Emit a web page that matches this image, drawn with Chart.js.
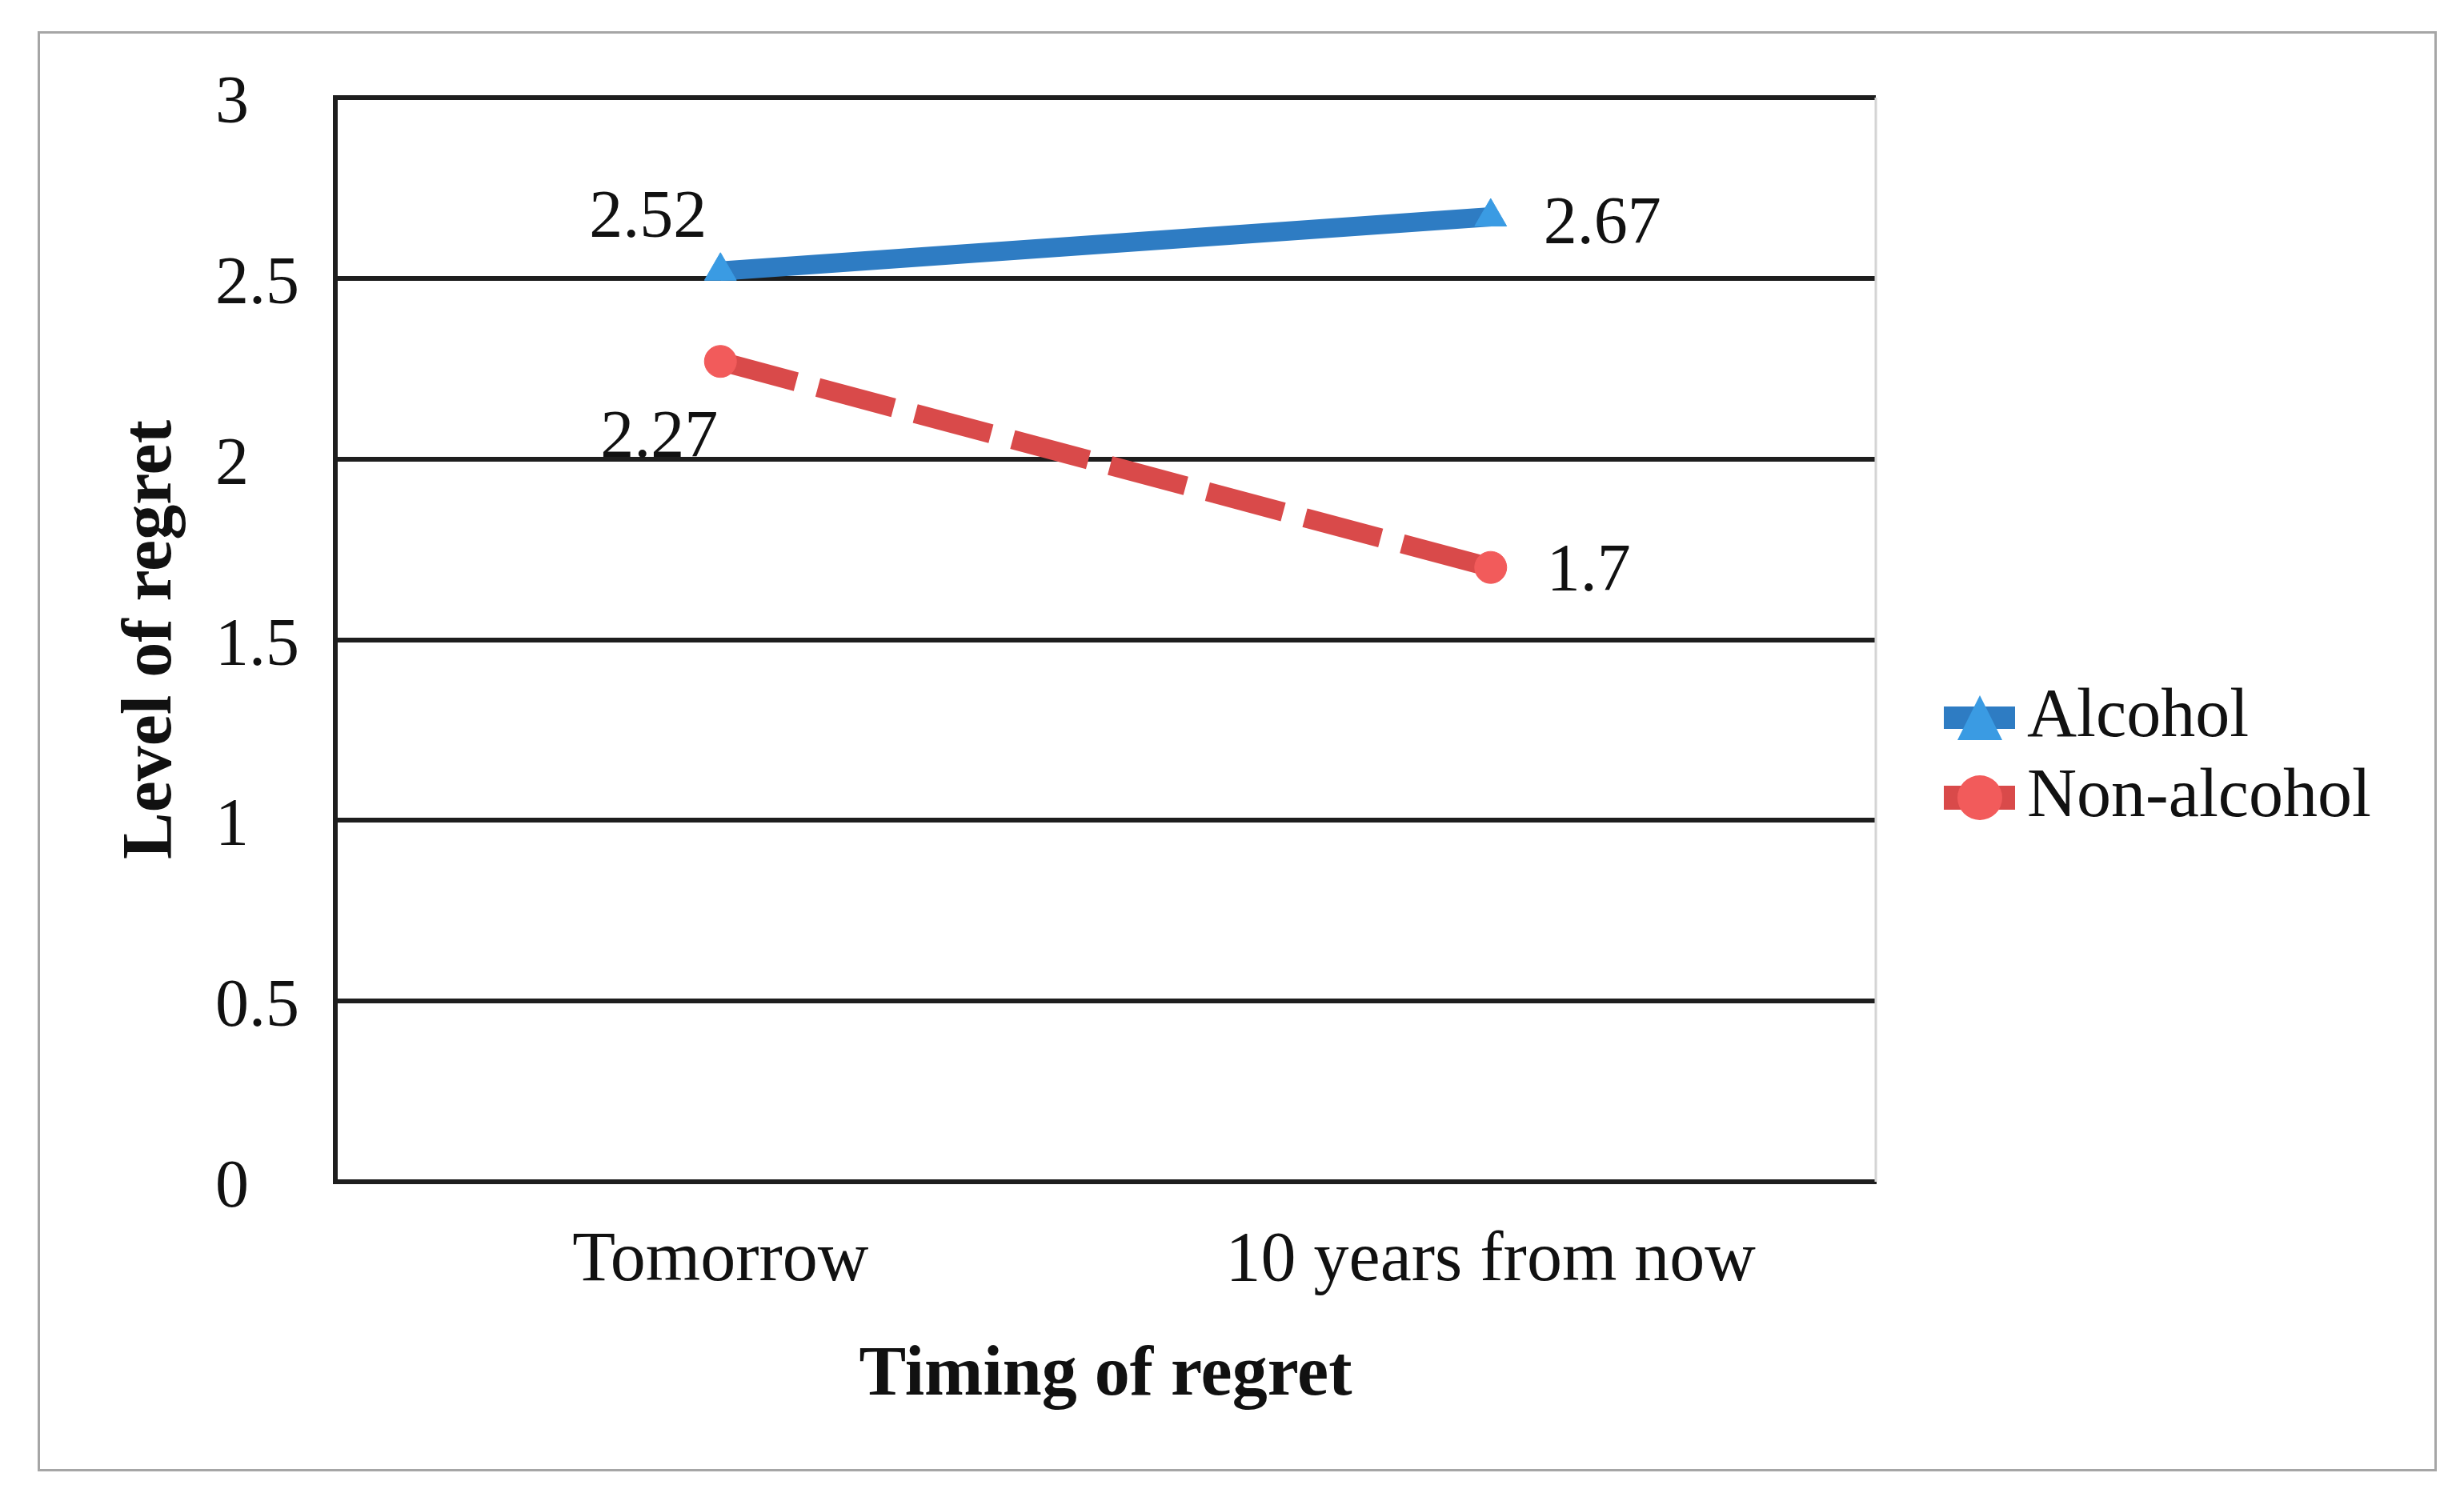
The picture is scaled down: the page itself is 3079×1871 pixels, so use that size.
<!DOCTYPE html>
<html>
<head>
<meta charset="utf-8">
<style>
  html, body { margin: 0; padding: 0; background: #ffffff; }
  #wrap { width: 3079px; height: 1871px; }
</style>
<script src="https://cdn.jsdelivr.net/npm/chart.js@4/dist/chart.umd.min.js"></script>
</head>
<body>
<div id="wrap"><canvas id="c" width="3079" height="1871"></canvas></div>
<script>
// ---- data ----
const categories = ['Tomorrow', '10 years from now'];
const seriesNames = ['Alcohol', 'Non-alcohol'];
const alcohol = [2.52, 2.67];
const nonAlcohol = [2.27, 1.7];
const yTickLabels = ['0', '0.5', '1', '1.5', '2', '2.5', '3'];
const xAxisTitle = 'Timing of regret';
const yAxisTitle = 'Level of regret';

// ---- styles ----
const FONT = '"Liberation Serif", "DejaVu Serif", serif';
const TEXT = '#111111';
const GRID = '#1e1e1e';
const blueLine = '#2E7CC3', blueMarker = '#3A9BE3';
const redLine = '#D94A4A', redMarker = '#F25B5B';
const legendFontSize = 86;
const legendPad = 14;
const legendBoxW = 132;
const PAD_TOP = 122, PAD_BOTTOM = 99, PAD_LEFT = 60;
// data label offsets (px) relative to each point: [series][point]
const labelPlacement = [
  [{dx: -17, dy: -65, align: 'right'}, {dx: 66, dy: 11, align: 'left'}],
  [{dx: -3, dy: 97, align: 'right'}, {dx: 70, dy: 7, align: 'left'}]
];

// legend marker images (line segment + marker)
function legendImage(kind) {
  const cv = document.createElement('canvas');
  cv.width = 220; cv.height = 64;
  const g = cv.getContext('2d');
  if (kind === 'triangle') {
    g.fillStyle = blueLine;
    g.fillRect(115, 18, 89, 28);
    g.fillStyle = blueMarker;
    g.beginPath();
    g.moveTo(160, 4); g.lineTo(188, 60); g.lineTo(132, 60); g.closePath();
    g.fill();
  } else {
    g.fillStyle = redLine;
    g.fillRect(115, 17, 89, 30);
    g.fillStyle = redMarker;
    g.beginPath();
    g.arc(160, 32, 28, 0, Math.PI * 2);
    g.fill();
  }
  return cv;
}
const legendImgs = [legendImage('triangle'), legendImage('circle')];

// right padding so that the plot area ends where the reference does
const mctx = document.createElement('canvas').getContext('2d');
mctx.font = legendFontSize + 'px ' + FONT;
const maxLegendText = Math.max(...seriesNames.map(s => mctx.measureText(s).width));
const legendWidth = legendPad + legendBoxW + legendFontSize / 2 + maxLegendText;
const padRight = Math.max(0, 3079 - 2354 - legendWidth);

const bgPlugin = {
  id: 'bg',
  beforeDraw(chart) {
    const ctx = chart.ctx;
    ctx.save();
    ctx.fillStyle = '#ffffff';
    ctx.fillRect(0, 0, chart.width, chart.height);
    ctx.restore();
  },
  afterDraw(chart) {
    const ctx = chart.ctx;
    ctx.save();
    ctx.strokeStyle = '#a6a6a6';
    ctx.lineWidth = 3;
    ctx.strokeRect(48.5, 40.5, 2995, 1797);
    ctx.restore();
  },
  beforeDatasetsDraw(chart) {
    const ctx = chart.ctx, a = chart.chartArea;
    ctx.save();
    ctx.strokeStyle = '#d4d4d4';
    ctx.lineWidth = 3;
    ctx.beginPath();
    ctx.moveTo(a.right, a.top);
    ctx.lineTo(a.right, a.bottom);
    ctx.stroke();
    ctx.restore();
  }
};

const dataLabelPlugin = {
  id: 'dataLabels',
  afterDatasetsDraw(chart) {
    const ctx = chart.ctx;
    ctx.save();
    ctx.font = '84px ' + FONT;
    ctx.fillStyle = TEXT;
    ctx.textBaseline = 'middle';
    chart.data.datasets.forEach((ds, i) => {
      const meta = chart.getDatasetMeta(i);
      meta.data.forEach((pt, j) => {
        const p = labelPlacement[i][j];
        ctx.textAlign = p.align;
        ctx.fillText(String(ds.data[j]), pt.x + p.dx, pt.y + p.dy);
      });
    });
    ctx.restore();
  }
};

new Chart(document.getElementById('c'), {
  type: 'line',
  data: {
    labels: categories,
    datasets: [
      {
        label: seriesNames[0],
        data: alcohol,
        borderColor: blueLine,
        backgroundColor: blueMarker,
        borderWidth: 24,
        borderCapStyle: 'butt',
        pointStyle: 'triangle',
        pointRadius: 23,
        pointBackgroundColor: blueMarker,
        pointBorderColor: blueMarker,
        pointBorderWidth: 1,
        tension: 0
      },
      {
        label: seriesNames[1],
        data: nonAlcohol,
        borderColor: redLine,
        backgroundColor: redMarker,
        borderWidth: 24,
        borderDash: [98, 28],
        borderCapStyle: 'butt',
        pointStyle: 'circle',
        pointRadius: 20,
        pointBackgroundColor: redMarker,
        pointBorderColor: redMarker,
        pointBorderWidth: 1,
        tension: 0
      }
    ]
  },
  options: {
    responsive: false,
    animation: false,
    devicePixelRatio: 1,
    layout: { padding: { left: PAD_LEFT, right: padRight, top: PAD_TOP, bottom: PAD_BOTTOM } },
    plugins: {
      tooltip: { enabled: false },
      legend: {
        display: true,
        position: 'right',
        align: 'center',
        maxWidth: 1200,
        labels: {
          usePointStyle: true,
          pointStyleWidth: legendBoxW,
          padding: legendPad,
          color: TEXT,
          font: { family: FONT, size: legendFontSize },
          generateLabels(chart) {
            const items = Chart.defaults.plugins.legend.labels.generateLabels(chart);
            items.forEach((it, i) => { it.pointStyle = legendImgs[i]; });
            return items;
          }
        }
      }
    },
    scales: {
      x: {
        type: 'category',
        offset: true,
        grid: { display: false, drawTicks: false, tickLength: 0 },
        border: { display: true, color: GRID, width: 6 },
        ticks: {
          color: TEXT,
          padding: 56,
          maxRotation: 0,
          autoSkip: false,
          font: { family: FONT, size: 88, lineHeight: 1.0 }
        },
        title: {
          display: true,
          text: xAxisTitle,
          color: TEXT,
          padding: { top: 0, bottom: 8 },
          font: { family: FONT, size: 88, weight: 'bold', lineHeight: 1.0 }
        },
        afterFit(scale) { scale.height = 1871 - PAD_BOTTOM - 1477; }
      },
      y: {
        type: 'linear',
        position: 'left',
        weight: 0,
        min: 0,
        max: 3,
        grid: { display: true, color: GRID, lineWidth: 6, drawTicks: false, tickLength: 0 },
        border: { display: true, color: GRID, width: 6 },
        ticks: {
          stepSize: 0.5,
          crossAlign: 'far',
          labelOffset: 9,
          color: TEXT,
          padding: 0,
          font: { family: FONT, size: 84 },
          callback(value, index) { return yTickLabels[index]; }
        },
        afterFit(scale) { scale.width = 150; }
      },
      yTitle: {
        type: 'linear',
        position: 'left',
        weight: 1,
        display: true,
        grid: { display: false, drawTicks: false },
        border: { display: false },
        ticks: { display: false },
        title: {
          display: true,
          text: yAxisTitle,
          color: TEXT,
          padding: { top: 86, bottom: 0 },
          font: { family: FONT, size: 88, weight: 'bold', lineHeight: 1.0 }
        },
        afterFit(scale) { scale.width = 269 - PAD_LEFT; }
      }
    }
  },
  plugins: [bgPlugin, dataLabelPlugin]
});
</script>
</body>
</html>
